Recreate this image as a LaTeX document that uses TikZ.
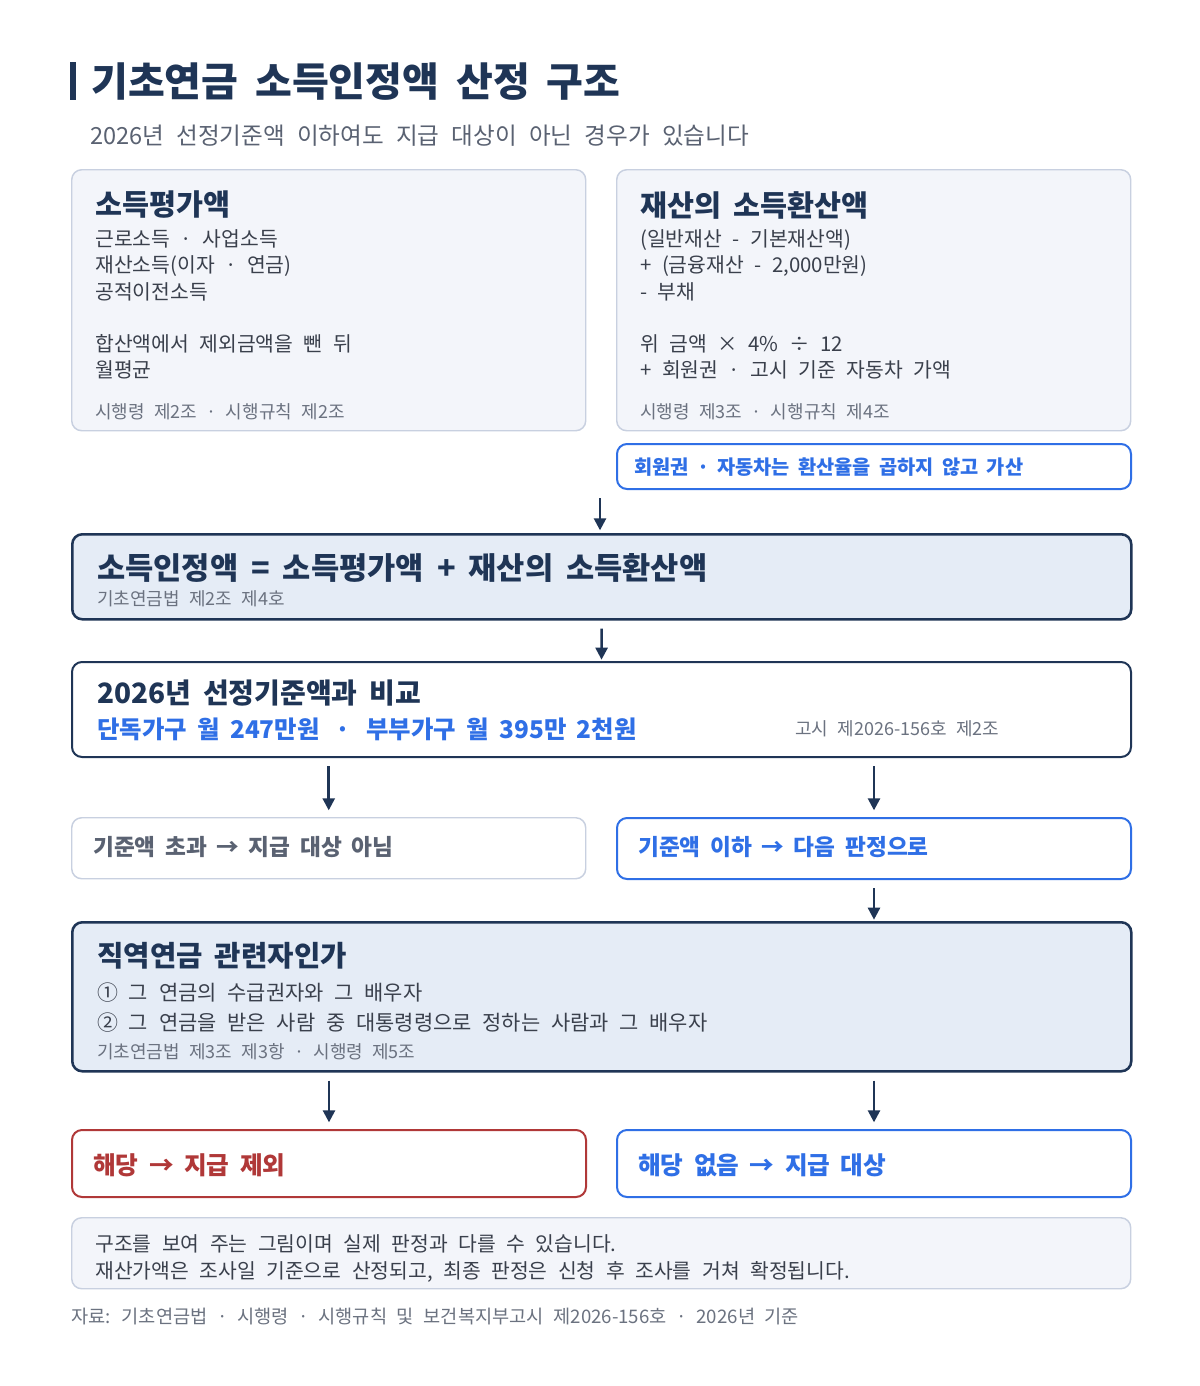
\documentclass[tikz,border=0pt]{standalone}
\usepackage{fontspec}
\setmainfont{Noto Sans CJK KR}[WordSpace=2.3,BoldFeatures={WordSpace=1.85}]
\usetikzlibrary{arrows.meta}
\definecolor{navy}{HTML}{1F3556}
\definecolor{accent}{HTML}{2F6FE6}
\definecolor{alert}{HTML}{B03838}
\definecolor{cardbg}{HTML}{F3F5FA}
\definecolor{cardline}{HTML}{C8D0E0}
\definecolor{keybg}{HTML}{E5ECF6}
\definecolor{bodyink}{HTML}{3A404C}
\definecolor{noteink}{HTML}{6B7280}
\definecolor{dimink}{HTML}{5A6272}
\newcommand{\fsz}[1]{\fontsize{#1}{#1}\selectfont}
\begin{document}
\begin{tikzpicture}[x=0.75pt,y=-0.75pt,
	card/.style={draw=cardline,fill=cardbg,line width=1.1pt,rounded corners=7.5pt,anchor=north west,inner sep=0pt},
	half/.style={minimum width=385.5pt},
	full/.style={minimum width=794.25pt},
	key/.style={card,draw=navy,fill=keybg,line width=1.9pt},
	plain/.style={card,fill=white},
	bluebox/.style={card,fill=white,draw=accent,line width=1.5pt},
	redbox/.style={card,fill=white,draw=alert,line width=1.5pt},
	txt/.style={anchor=west,inner sep=0pt},
	head/.style={txt,font=\bfseries\fsz{22},text=navy},
	body/.style={txt,font=\fsz{15.3},text=bodyink},
	cite/.style={txt,font=\fsz{13.5},text=noteink},
	flow/.style={draw=navy,line width=1.9pt,-{Triangle[length=9pt,width=9pt]},shorten <=6pt}]
	\fill[white] (0,0) rectangle (1200,1386);
	\useasboundingbox (0,0) rectangle (1200,1386);
	% title
	\fill[navy] (70,62) rectangle (76,100);
	\node[txt,font=\bfseries\fsz{30},text=navy] (title) at (91,82) {기초연금 소득인정액 산정 구조};
	\node[txt,font=\fsz{17.7},text=dimink] (sub) at (90,136) {2026년 선정기준액 이하여도 지급 대상이 아닌 경우가 있습니다};
	% boxes
	\node[card,half,minimum height=195.75pt] (inc) at (71,169) {};
	\node[card,half,minimum height=195.75pt] (prop) at (616,169) {};
	\node[bluebox,half,minimum height=33.75pt] (memo) at (616,443) {};
	\node[key,full,minimum height=63.75pt] (sum) at (71,533) {};
	\node[plain,full,draw=navy,line width=1.5pt,minimum height=71.25pt] (cmp) at (71,661) {};
	\node[plain,half,minimum height=45.75pt] (over) at (71,817) {};
	\node[bluebox,half,minimum height=45.75pt] (under) at (616,817) {};
	\node[key,full,minimum height=111.75pt] (job) at (71,921) {};
	\node[redbox,half,minimum height=50.25pt] (yes) at (71,1129) {};
	\node[bluebox,half,minimum height=50.25pt] (no) at (616,1129) {};
	\node[card,full,minimum height=53.25pt] (caveat) at (71,1217) {};
	% income box
	\node[head] (incH) at (95,205) {소득평가액};
	\foreach \y/\t in {239/{근로소득 · 사업소득}, 266/{재산소득(이자 · 연금)}, 292/{공적이전소득}, 344/{합산액에서 제외금액을 뺀 뒤}, 370/{월평균}}
		\node[body] at (95,\y) {\t};
	\node[cite] (incC) at (95,412) {시행령 제2조 · 시행규칙 제2조};
	% property box
	\node[head] (propH) at (640,205) {재산의 소득환산액};
	\foreach \y/\t in {240/{(일반재산 - 기본재산액)}, 266/{+ (금융재산 - 2,000만원)}, 292/{- 부채}, 344/{위 금액 × 4\% ÷ 12}, 370/{+ 회원권 · 고시 기준 자동차 가액}}
		\node[body] at (640,\y) {\t};
	\node[cite] (propC) at (640,412) {시행령 제3조 · 시행규칙 제4조};
	\node[txt,font=\bfseries\fsz{14.8},text=accent] (memoT) at (634,467) {회원권 · 자동차는 환산율을 곱하지 않고 가산};
	% formula
	\node[txt,font=\bfseries\fsz{23},text=navy] (sumT) at (97,568) {소득인정액 = 소득평가액 + 재산의 소득환산액};
	\node[cite] (sumC) at (97,599) {기초연금법 제2조 제4호};
	% threshold
	\node[txt,font=\bfseries\fsz{21},text=navy] (cmpT) at (97,693) {2026년 선정기준액과 비교};
	\node[txt,font=\bfseries\fsz{18.3},text=accent] (cmpV) at (97,729) {단독가구 월 247만원\hspace{12pt}·\hspace{12pt}부부가구 월 395만 2천원};
	\node[cite] (cmpC) at (795,729) {고시 제2026-156호 제2조};
	\node[txt,font=\bfseries\fsz{17},text=dimink] (overT) at (93,847) {기준액 초과 → 지급 대상 아님};
	\node[txt,font=\bfseries\fsz{17},text=accent] (underT) at (638,847) {기준액 이하 → 다음 판정으로};
	% occupational pension
	\node[head,font=\bfseries\fsz{21.5}] (jobT) at (97,956) {직역연금 관련자인가};
	\node[body,font=\fsz{15.7}] (job1) at (97,993) {① 그 연금의 수급권자와 그 배우자};
	\node[body,font=\fsz{15.7}] (job2) at (97,1023) {② 그 연금을 받은 사람 중 대통령령으로 정하는 사람과 그 배우자};
	\node[cite] (jobC) at (97,1052) {기초연금법 제3조 제3항 · 시행령 제5조};
	\node[txt,font=\bfseries\fsz{18.5},text=alert] (yesT) at (93,1165) {해당 → 지급 제외};
	\node[txt,font=\bfseries\fsz{18.5},text=accent] (noT) at (638,1165) {해당 없음 → 지급 대상};
	% notes
	\node[body] (cav1) at (95,1244) {구조를 보여 주는 그림이며 실제 판정과 다를 수 있습니다.};
	\node[body] (cav2) at (95,1272) {재산가액은 조사일 기준으로 산정되고, 최종 판정은 신청 후 조사를 거쳐 확정됩니다.};
	\node[txt,font=\fsz{14},text=noteink] (src) at (71,1317) {자료: 기초연금법 · 시행령 · 시행규칙 및 보건복지부고시 제2026-156호 · 2026년 기준};
	% arrows
	\coordinate (s0) at (600,498);
	\draw[flow,shorten <=0pt,shorten >=2pt] (s0) -- (s0 |- sum.north);
	\draw[flow,shorten >=1pt] (sum.south) -- (cmp.north);
	\foreach \b in {over,under}
		\draw[flow,shorten >=5pt] (cmp.south -| \b.north) -- (\b.north);
	\draw[flow,shorten >=1pt] (under.south) -- (job.north -| under.south);
	\foreach \b in {yes,no}
		\draw[flow,shorten >=5pt] (job.south -| \b.north) -- (\b.north);
\end{tikzpicture}
\end{document}
